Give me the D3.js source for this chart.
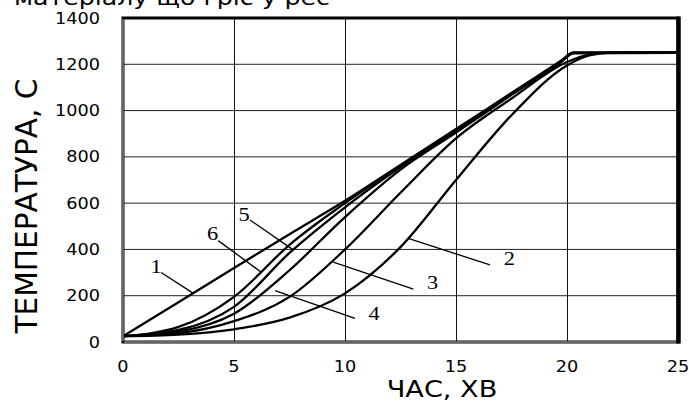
<!DOCTYPE html>
<html>
<head>
<meta charset="utf-8">
<script src="https://cdn.jsdelivr.net/npm/d3@7"></script>
<style>
body { margin: 0; background: #fff; }
</style>
</head>
<body>
<svg id="chart"></svg>
<script>
// time, min
var time1 = [0, 2.5, 5, 7.5, 10, 12.5, 15, 17.5, 19.7, 20.3, 25];
var curve1 = [25, 172, 320, 466, 610, 765, 920, 1076, 1213, 1250, 1250];
var curve6 = [25, 65, 195, 420, 600, 762, 916, 1074, 1212, 1250, 1250];
var curve5 = [25, 52, 152, 385, 582, 756, 912, 1071, 1210, 1249, 1250];
var curve4 = [25, 45, 122, 310, 540, 745, 905, 1068, 1207, 1247, 1250];
var time2 = [0, 2.5, 5, 7.5, 10, 12.5, 15, 17.5, 20, 21, 22, 25];
var curve3 = [25, 38, 90, 195, 400, 645, 880, 1052, 1210, 1242, 1250, 1250];
var curve2 = [25, 32, 55, 105, 210, 410, 700, 980, 1195, 1238, 1250, 1250];

var xTicks = [0, 5, 10, 15, 20, 25];
var yTicks = [0, 200, 400, 600, 800, 1000, 1200, 1400];

// curve labels: text position and leader line (in data units)
var labelText = ["1", "6", "5", "4", "3", "2"];
var labelAt = [[1.49, 328], [4.04, 467], [5.45, 552], [11.31, 124], [13.95, 258], [17.4, 359]];
var leaderFrom = [[1.72, 300], [4.29, 438], [5.72, 527], [10.45, 102], [13.08, 228], [16.53, 333]];
var leaderTo = [[3.17, 210], [6.25, 300], [7.67, 398], [6.85, 222], [9.47, 345], [12.85, 448]];

var totalWidth = 689;
var totalHeight = 401;
var stretch = 1.18;

var svg = d3.select("#chart")
    .attr("width", totalWidth)
    .attr("height", totalHeight)
    .style("font-family", "'DejaVu Sans', sans-serif");

var x = d3.scaleLinear().domain([0, 25]).range([123, 678]);
var y = d3.scaleLinear().domain([0, 1400]).range([342, 18]);

function txt(px, py, s, size, anchor) {
    return svg.append("text")
        .attr("transform", "translate(" + px + "," + py + ") scale(" + stretch + ",1)")
        .attr("text-anchor", anchor)
        .attr("font-size", size)
        .attr("fill", "#000")
        .text(s);
}

// heading, cut off by the top edge as in the picture
svg.append("text")
    .attr("x", 14)
    .attr("y", 5)
    .attr("font-size", 21)
    .attr("textLength", 316)
    .attr("lengthAdjust", "spacingAndGlyphs")
    .text("матеріалу що гріє у рес");

// grid
svg.append("g").selectAll("line")
    .data(xTicks.slice(1, -1))
    .enter().append("line")
    .attr("x1", function (d) { return x(d) + 0.5 })
    .attr("x2", function (d) { return x(d) + 0.5 })
    .attr("y1", y(1400))
    .attr("y2", y(0))
    .attr("stroke", "#111")
    .attr("stroke-width", 1);

svg.append("g").selectAll("line")
    .data(yTicks.slice(1, -1))
    .enter().append("line")
    .attr("x1", x(0))
    .attr("x2", x(25))
    .attr("y1", function (d) { return y(d) })
    .attr("y2", function (d) { return y(d) })
    .attr("stroke", "#222")
    .attr("stroke-width", 1);

// curves
var line = d3.line()
    .x(function (d) { return x(d[0]) })
    .y(function (d) { return y(d[1]) })
    .curve(d3.curveMonotoneX);

var series = [
    [time1, curve1], [time1, curve6], [time1, curve5],
    [time1, curve4], [time2, curve3], [time2, curve2]
];

svg.append("g").selectAll("path")
    .data(series)
    .enter().append("path")
    .attr("d", function (s) { return line(s[0].map(function (t, i) { return [t, s[1][i]] })) })
    .attr("fill", "none")
    .attr("stroke", "#000")
    .attr("stroke-width", 2.3);

// frame
svg.append("rect")
    .attr("x", x(0))
    .attr("y", y(1400))
    .attr("width", x(25) - x(0))
    .attr("height", y(0) - y(1400))
    .attr("fill", "none")
    .attr("stroke", "#000")
    .attr("stroke-width", 3);
svg.append("line")
    .attr("x1", x(0)).attr("x2", x(0))
    .attr("y1", y(1400) + 1).attr("y2", y(0) - 1)
    .attr("stroke", "#fff").attr("stroke-width", 0.8);
svg.append("line")
    .attr("x1", x(0) + 1).attr("x2", x(25) - 1)
    .attr("y1", y(0)).attr("y2", y(0))
    .attr("stroke", "#fff").attr("stroke-width", 0.8);
svg.append("line")
    .attr("x1", x(25) + 0.5).attr("x2", x(25) + 0.5)
    .attr("y1", y(1400) - 1.5).attr("y2", y(0) + 1.5)
    .attr("stroke", "#000").attr("stroke-width", 4.5);

// curve labels
for (var i = 0; i < labelText.length; i++) {
    svg.append("line")
        .attr("x1", x(leaderFrom[i][0]))
        .attr("y1", y(leaderFrom[i][1]))
        .attr("x2", x(leaderTo[i][0]))
        .attr("y2", y(leaderTo[i][1]))
        .attr("stroke", "#000")
        .attr("stroke-width", 1.3);
    txt(x(labelAt[i][0]), y(labelAt[i][1]) + 6.5, labelText[i], 19, "middle")
        .attr("font-family", "'Liberation Serif', 'Times New Roman', serif");
}

// tick labels
yTicks.forEach(function (d) {
    txt(100, y(d) + 5.5, d, 15, "end");
});
xTicks.forEach(function (d) {
    txt(x(d), 372, d, 15, "middle");
});

// axis titles
txt(442, 397, "ЧАС, ХВ", 23, "middle");
svg.append("text")
    .attr("transform", "translate(37,206) scale(" + stretch + ",1) rotate(-90)")
    .attr("text-anchor", "middle")
    .attr("font-size", 26)
    .attr("textLength", 255)
    .attr("lengthAdjust", "spacingAndGlyphs")
    .text("ТЕМПЕРАТУРА, С");
</script>
</body>
</html>
